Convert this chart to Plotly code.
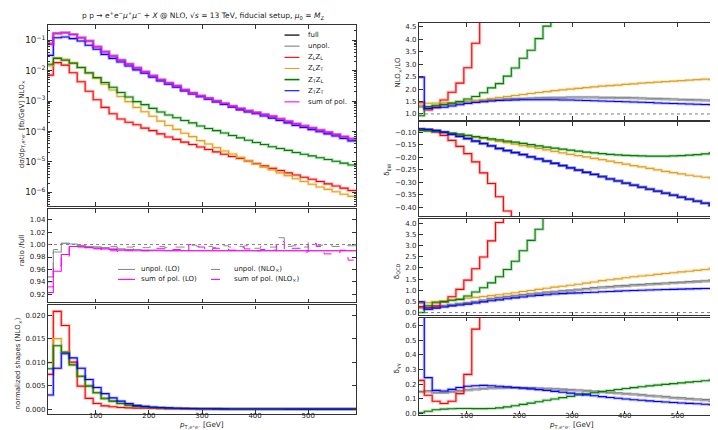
import plotly.graph_objects as go

# ---------------- data ----------------
EDGES = list(range(5, 591, 15))  # bin edges in GeV (39 bins)

TOP_FULL = [0.0780, 0.169, 0.177, 0.154, 0.121, 0.0940, 0.0607, 0.0420, 0.0305, 0.0221,
            0.0164, 0.0124, 0.00921, 0.00683, 0.00506, 0.00393, 0.00319, 0.00236, 0.00184, 0.00150,
            0.00124, 0.00101, 0.000840, 0.000683, 0.000568, 0.000484, 0.000421, 0.000367, 0.000319, 0.000260,
            0.000216, 0.000180, 0.000153, 0.000130, 0.000111, 9.42e-5, 8.02e-5, 6.83e-5, 5.81e-5]
TOP_UNPOL = [0.0745, 0.167, 0.177, 0.154, 0.121, 0.0938, 0.0605, 0.0419, 0.0304, 0.0220,
             0.0163, 0.0123, 0.00917, 0.00680, 0.00504, 0.00391, 0.00318, 0.00235, 0.00183, 0.00149,
             0.00123, 0.00100, 0.000836, 0.000680, 0.000565, 0.000482, 0.000419, 0.000365, 0.000318, 0.000259,
             0.000215, 0.000179, 0.000152, 0.000129, 0.000110, 9.38e-5, 7.98e-5, 6.80e-5, 5.79e-5]
TOP_SUMPOL = [0.0724, 0.162, 0.174, 0.153, 0.120, 0.0933, 0.0603, 0.0417, 0.0302, 0.0219,
              0.0162, 0.0123, 0.00912, 0.00676, 0.00501, 0.00389, 0.00316, 0.00234, 0.00182, 0.00148,
              0.00123, 0.00100, 0.000832, 0.000676, 0.000562, 0.000479, 0.000417, 0.000363, 0.000316, 0.000257,
              0.000214, 0.000178, 0.000151, 0.000129, 0.000110, 9.33e-5, 7.94e-5, 6.76e-5, 5.75e-5]
TOP_TT = [0.0316, 0.120, 0.126, 0.112, 0.0933, 0.0676, 0.0501, 0.0339, 0.0251, 0.0191,
          0.0141, 0.0105, 0.00813, 0.00603, 0.00457, 0.00355, 0.00282, 0.00214, 0.00170, 0.00138,
          0.00115, 0.000933, 0.000776, 0.000631, 0.000513, 0.000437, 0.000380, 0.000324, 0.000275, 0.000229,
          0.000191, 0.000158, 0.000135, 0.000115, 9.77e-5, 8.32e-5, 7.08e-5, 5.89e-5, 4.90e-5]
TOP_TL = [0.0162, 0.0251, 0.0219, 0.0174, 0.0126, 0.00851, 0.00589, 0.00407, 0.00282, 0.00191,
          0.00135, 0.000955, 0.000759, 0.000575, 0.000437, 0.000347, 0.000282, 0.000229, 0.000191, 0.000151,
          0.000126, 0.000107, 8.91e-5, 7.41e-5, 6.17e-5, 5.13e-5, 4.37e-5, 3.72e-5, 3.16e-5, 2.75e-5,
          2.40e-5, 2.04e-5, 1.78e-5, 1.58e-5, 1.38e-5, 1.20e-5, 1.05e-5, 9.12e-6, 7.94e-6]
TOP_LT = [0.0141, 0.0263, 0.0234, 0.0182, 0.0126, 0.00813, 0.00550, 0.00355, 0.00229, 0.00141,
          0.000955, 0.000617, 0.000447, 0.000316, 0.000219, 0.000158, 0.000117, 8.71e-5, 6.76e-5, 5.01e-5,
          3.89e-5, 2.95e-5, 2.29e-5, 1.82e-5, 1.41e-5, 1.10e-5, 8.51e-6, 6.76e-6, 5.50e-6, 4.37e-6,
          3.55e-6, 2.82e-6, 2.29e-6, 1.86e-6, 1.51e-6, 1.26e-6, 1.05e-6, 8.71e-7, 7.41e-7]
TOP_LL = [0.00708, 0.0182, 0.0151, 0.00851, 0.00427, 0.00209, 0.00110, 0.000617, 0.000380, 0.000257,
          0.000200, 0.000166, 0.000129, 0.000107, 8.32e-5, 6.61e-5, 5.50e-5, 4.47e-5, 3.72e-5, 3.09e-5,
          2.57e-5, 2.14e-5, 1.78e-5, 1.51e-5, 1.29e-5, 1.07e-5, 8.91e-6, 7.41e-6, 6.17e-6, 5.25e-6,
          4.37e-6, 3.72e-6, 3.16e-6, 2.69e-6, 2.29e-6, 1.91e-6, 1.62e-6, 1.38e-6, 1.15e-6]

RAT_UNPOL_LO = [0.948, 0.988, 1.002, 1.001, 0.999, 0.997, 0.996, 0.995, 0.994, 0.993,
                0.992, 0.992, 0.991, 0.991, 0.991, 0.990, 0.990, 0.990, 0.990, 0.990,
                0.990, 0.990, 0.990, 0.990, 0.990, 0.990, 0.990, 0.990, 0.990, 0.990,
                0.990, 0.990, 0.990, 0.990, 0.990, 0.990, 0.990, 0.990, 0.990]
RAT_SUMPOL_LO = [0.923, 0.957, 0.984, 0.997, 0.997, 0.995, 0.994, 0.993, 0.992, 0.991,
                 0.990, 0.990, 0.990, 0.990, 0.990, 0.990, 0.990, 0.990, 0.990, 0.990,
                 0.990, 0.990, 0.990, 0.990, 0.990, 0.990, 0.990, 0.990, 0.990, 0.990,
                 0.990, 0.990, 0.990, 0.990, 0.990, 0.990, 0.990, 0.990, 0.990]
RAT_UNPOL_NLO = [0.940, 0.992, 1.002, 1.000, 0.998, 0.997, 0.996, 0.996, 0.997, 0.995,
                 0.996, 0.997, 0.995, 0.996, 0.997, 0.995, 0.996, 0.996, 0.999, 0.997,
                 0.997, 0.995, 0.998, 0.996, 0.997, 0.998, 0.994, 0.997, 0.996, 1.011,
                 0.997, 0.998, 0.996, 1.004, 0.999, 0.998, 0.997, 0.999, 0.998]
RAT_SUMPOL_NLO = [0.932, 0.966, 0.981, 0.995, 0.996, 0.994, 0.993, 0.992, 0.990, 0.989,
                  0.991, 0.993, 0.990, 0.992, 0.994, 0.991, 0.992, 0.990, 1.000, 0.996,
                  0.991, 0.994, 0.993, 0.991, 0.995, 0.993, 0.990, 0.992, 0.991, 1.005,
                  0.992, 0.994, 0.988, 1.002, 0.997, 0.985, 0.987, 0.991, 0.975]

SHP_LL = [0.0074, 0.0208, 0.0178, 0.0100, 0.0049, 0.0023, 0.0012, 0.0007, 0.0005, 0.00035,
          0.00028, 0.00023, 0.00018, 0.00015, 0.00012, 0.00010, 0.00008, 0.00007, 0.00006, 0.00005,
          0.00004, 0.00004, 0.00003, 0.00003, 0.00002, 0.00002, 0.00002, 0.00002, 0.00001, 0.00001,
          0.00001, 0.00001, 0.00001, 0.00001, 0.00001, 0.00001, 0.00001, 0.00001, 0.00001]
SHP_LT = [0.0099, 0.0150, 0.0122, 0.0095, 0.0070, 0.0051, 0.0035, 0.0024, 0.0017, 0.0012,
          0.00085, 0.00060, 0.00045, 0.00033, 0.00024, 0.00018, 0.00013, 0.00010, 0.00008, 0.00006,
          0.00005, 0.00004, 0.00003, 0.00002, 0.00002, 0.00001, 0.00001, 0.00001, 0.00001, 0.00001,
          0.00001, 0.00001, 0.0, 0.0, 0.0, 0.0, 0.0, 0.0, 0.0]
SHP_TL = [0.0086, 0.0135, 0.0121, 0.0094, 0.0070, 0.0049, 0.0035, 0.0022, 0.0017, 0.0012,
          0.00085, 0.00060, 0.00048, 0.00036, 0.00028, 0.00022, 0.00018, 0.00015, 0.00012, 0.00010,
          0.00008, 0.00007, 0.00006, 0.00005, 0.00004, 0.00003, 0.00003, 0.00002, 0.00002, 0.00002,
          0.00002, 0.00001, 0.00001, 0.00001, 0.00001, 0.00001, 0.00001, 0.00001, 0.00001]
SHP_TT = [0.0030, 0.0087, 0.0118, 0.0109, 0.0087, 0.0063, 0.0046, 0.0033, 0.0024, 0.0017,
          0.0012, 0.0008, 0.0006, 0.00045, 0.00035, 0.00027, 0.00021, 0.00016, 0.00013, 0.00010,
          0.00008, 0.00007, 0.00006, 0.00005, 0.00004, 0.00003, 0.00003, 0.00002, 0.00002, 0.00002,
          0.00001, 0.00001, 0.00001, 0.00001, 0.00001, 0.00001, 0.00001, 0.00001, 0.00001]

K_FULL = [1.30, 1.25, 1.30, 1.36, 1.40, 1.44, 1.48, 1.51, 1.53, 1.56,
          1.58, 1.60, 1.61, 1.62, 1.63, 1.64, 1.65, 1.66, 1.66, 1.67,
          1.67, 1.67, 1.67, 1.66, 1.66, 1.65, 1.65, 1.64, 1.63, 1.62,
          1.61, 1.60, 1.59, 1.58, 1.57, 1.56, 1.55, 1.54, 1.53]
K_UNPOL = [1.28, 1.24, 1.29, 1.35, 1.39, 1.43, 1.47, 1.50, 1.52, 1.55,
           1.57, 1.59, 1.60, 1.61, 1.62, 1.63, 1.64, 1.65, 1.65, 1.66,
           1.66, 1.66, 1.66, 1.65, 1.65, 1.64, 1.64, 1.63, 1.62, 1.61,
           1.60, 1.59, 1.58, 1.57, 1.56, 1.55, 1.54, 1.53, 1.52]
K_LL = [1.47, 1.16, 1.27, 1.56, 1.87, 2.24, 2.86, 3.84, 5.3, 6.6,
        7.9, 9.1, 10.2, 11.3, 12.3, 13.2, 14.1, 15.0, 15.8, 16.5,
        17.2, 17.9, 18.5, 19.1, 19.7, 20.2, 20.7, 21.2, 21.6, 22.0,
        22.4, 22.8, 23.1, 23.4, 23.7, 24.0, 24.3, 24.5, 24.7]
K_LT = [1.40, 1.43, 1.44, 1.45, 1.46, 1.49, 1.52, 1.55, 1.58, 1.62,
        1.66, 1.70, 1.74, 1.78, 1.82, 1.86, 1.90, 1.94, 1.97, 2.00,
        2.03, 2.06, 2.09, 2.12, 2.14, 2.16, 2.19, 2.21, 2.24, 2.26,
        2.28, 2.30, 2.32, 2.34, 2.36, 2.38, 2.40, 2.38, 2.48]
K_TL = [0.93, 1.30, 1.35, 1.38, 1.43, 1.50, 1.60, 1.70, 1.85, 2.05,
        2.22, 2.52, 2.85, 3.24, 3.56, 4.03, 4.53, 5.1, 5.7, 6.3,
        6.9, 7.5, 8.1, 8.6, 9.1, 9.6, 10.0, 10.4, 10.8, 11.2,
        11.5, 11.8, 12.1, 12.4, 12.6, 12.8, 13.0, 13.2, 13.4]
K_TT = [2.48, 1.22, 1.25, 1.27, 1.32, 1.37, 1.42, 1.46, 1.49, 1.52,
        1.54, 1.55, 1.56, 1.57, 1.57, 1.57, 1.57, 1.57, 1.56, 1.56,
        1.55, 1.54, 1.53, 1.52, 1.51, 1.50, 1.49, 1.48, 1.47, 1.46,
        1.44, 1.43, 1.42, 1.41, 1.40, 1.39, 1.38, 1.37, 1.34]

EW_FULL = [-0.088, -0.090, -0.094, -0.100, -0.108, -0.116, -0.125, -0.135, -0.145, -0.154,
           -0.164, -0.173, -0.181, -0.189, -0.198, -0.206, -0.215, -0.224, -0.233, -0.242,
           -0.251, -0.260, -0.268, -0.277, -0.286, -0.294, -0.303, -0.311, -0.319, -0.327,
           -0.335, -0.343, -0.351, -0.359, -0.367, -0.375, -0.383, -0.392, -0.403]
EW_UNPOL = [-0.087, -0.089, -0.094, -0.100, -0.108, -0.117, -0.126, -0.136, -0.145, -0.155,
            -0.165, -0.174, -0.182, -0.190, -0.199, -0.207, -0.216, -0.225, -0.234, -0.243,
            -0.252, -0.261, -0.269, -0.278, -0.287, -0.295, -0.304, -0.312, -0.320, -0.328,
            -0.336, -0.344, -0.352, -0.360, -0.368, -0.376, -0.384, -0.393, -0.404]
EW_LL = [-0.090, -0.092, -0.100, -0.113, -0.133, -0.157, -0.186, -0.219, -0.263, -0.305,
         -0.358, -0.415, -0.47, -0.53, -0.59, -0.65, -0.71, -0.77, -0.83, -0.89,
         -0.95, -1.01, -1.07, -1.13, -1.19, -1.25, -1.31, -1.37, -1.43, -1.49,
         -1.55, -1.61, -1.67, -1.73, -1.79, -1.85, -1.91, -1.97, -2.03]
EW_LT = [-0.092, -0.094, -0.097, -0.100, -0.104, -0.109, -0.114, -0.120, -0.125, -0.131,
         -0.137, -0.142, -0.148, -0.154, -0.159, -0.165, -0.171, -0.177, -0.183, -0.189,
         -0.194, -0.199, -0.205, -0.210, -0.216, -0.222, -0.228, -0.234, -0.239, -0.245,
         -0.251, -0.257, -0.262, -0.267, -0.272, -0.276, -0.280, -0.284, -0.287]
EW_TL = [-0.093, -0.095, -0.097, -0.100, -0.104, -0.108, -0.113, -0.118, -0.122, -0.127,
         -0.131, -0.136, -0.140, -0.145, -0.150, -0.155, -0.160, -0.164, -0.168, -0.172,
         -0.176, -0.180, -0.183, -0.186, -0.189, -0.191, -0.193, -0.194, -0.195, -0.196,
         -0.196, -0.196, -0.195, -0.194, -0.192, -0.190, -0.187, -0.183, -0.177]
EW_TT = [-0.087, -0.089, -0.093, -0.100, -0.109, -0.117, -0.126, -0.136, -0.146, -0.155,
         -0.166, -0.174, -0.182, -0.190, -0.199, -0.207, -0.216, -0.225, -0.234, -0.243,
         -0.252, -0.261, -0.269, -0.278, -0.287, -0.295, -0.304, -0.312, -0.320, -0.328,
         -0.336, -0.344, -0.352, -0.360, -0.368, -0.376, -0.384, -0.393, -0.405]

QCD_FULL = [0.22, 0.18, 0.25, 0.30, 0.35, 0.39, 0.43, 0.48, 0.55, 0.62,
            0.67, 0.71, 0.75, 0.79, 0.83, 0.86, 0.90, 0.93, 0.96, 0.99,
            1.03, 1.06, 1.10, 1.13, 1.15, 1.18, 1.20, 1.23, 1.25, 1.27,
            1.29, 1.31, 1.33, 1.35, 1.37, 1.39, 1.41, 1.44, 1.48]
QCD_UNPOL = [0.20, 0.17, 0.24, 0.29, 0.34, 0.38, 0.42, 0.47, 0.53, 0.60,
             0.65, 0.69, 0.73, 0.77, 0.81, 0.84, 0.88, 0.91, 0.94, 0.97,
             1.01, 1.04, 1.08, 1.11, 1.13, 1.16, 1.18, 1.21, 1.23, 1.25,
             1.27, 1.29, 1.31, 1.33, 1.35, 1.37, 1.39, 1.42, 1.46]
QCD_LL = [0.27, 0.22, 0.30, 0.47, 0.71, 1.04, 1.45, 1.96, 2.49, 3.21,
          4.03, 4.9, 5.8, 6.7, 7.6, 8.5, 9.3, 10.1, 10.9, 11.6,
          12.3, 13.0, 13.6, 14.2, 14.8, 15.3, 15.8, 16.3, 16.7, 17.1,
          17.5, 17.9, 18.2, 18.5, 18.8, 19.1, 19.4, 19.6, 19.8]
QCD_LT = [0.41, 0.44, 0.49, 0.52, 0.56, 0.60, 0.64, 0.68, 0.72, 0.76,
          0.80, 0.84, 0.89, 0.94, 0.99, 1.04, 1.09, 1.14, 1.18, 1.22,
          1.27, 1.32, 1.37, 1.43, 1.47, 1.51, 1.56, 1.60, 1.64, 1.67,
          1.71, 1.75, 1.78, 1.82, 1.85, 1.89, 1.93, 1.98, 2.07]
QCD_TL = [0.0, 0.30, 0.44, 0.49, 0.55, 0.59, 0.74, 0.92, 1.11, 1.33,
          1.60, 1.93, 2.30, 2.77, 3.23, 3.73, 4.3, 4.9, 5.5, 6.1,
          6.7, 7.2, 7.7, 8.2, 8.7, 9.1, 9.5, 9.9, 10.3, 10.6,
          10.9, 11.2, 11.5, 11.8, 12.0, 12.2, 12.4, 12.6, 12.8]
QCD_TT = [0.48, 0.15, 0.20, 0.25, 0.30, 0.34, 0.38, 0.43, 0.48, 0.53,
          0.57, 0.62, 0.66, 0.70, 0.74, 0.77, 0.80, 0.83, 0.85, 0.87,
          0.88, 0.90, 0.91, 0.93, 0.94, 0.96, 0.98, 0.99, 1.00, 1.01,
          1.02, 1.03, 1.04, 1.05, 1.06, 1.07, 1.08, 1.08, 1.08]

GG_FULL = [0.150, 0.152, 0.143, 0.143, 0.148, 0.155, 0.160, 0.165, 0.170, 0.173,
           0.175, 0.176, 0.176, 0.175, 0.174, 0.172, 0.170, 0.167, 0.164, 0.161,
           0.158, 0.155, 0.151, 0.147, 0.143, 0.139, 0.135, 0.131, 0.127, 0.122,
           0.117, 0.113, 0.108, 0.104, 0.100, 0.096, 0.092, 0.088, 0.083]
GG_UNPOL = [0.145, 0.150, 0.141, 0.141, 0.146, 0.153, 0.158, 0.163, 0.168, 0.171,
            0.173, 0.174, 0.174, 0.173, 0.172, 0.170, 0.168, 0.165, 0.162, 0.159,
            0.156, 0.153, 0.149, 0.145, 0.141, 0.137, 0.133, 0.129, 0.125, 0.120,
            0.115, 0.111, 0.106, 0.102, 0.098, 0.094, 0.090, 0.086, 0.081]
GG_LL = [0.226, 0.125, 0.084, 0.068, 0.084, 0.136, 0.267, 0.577, 0.85, 1.1,
         1.3, 1.5, 1.7, 1.9, 2.1, 2.3, 2.5, 2.7, 2.9, 3.1,
         3.3, 3.5, 3.7, 3.9, 4.1, 4.3, 4.5, 4.7, 4.9, 5.1,
         5.3, 5.5, 5.7, 5.9, 6.1, 6.3, 6.5, 6.7, 6.9]
GG_TL = [0.005, 0.015, 0.025, 0.030, 0.032, 0.034, 0.034, 0.033, 0.033, 0.034,
         0.038, 0.045, 0.053, 0.062, 0.071, 0.080, 0.090, 0.099, 0.108, 0.117,
         0.126, 0.134, 0.142, 0.150, 0.157, 0.164, 0.171, 0.177, 0.183, 0.189,
         0.194, 0.199, 0.204, 0.209, 0.214, 0.219, 0.224, 0.229, 0.234]
GG_TT = [0.9, 0.245, 0.158, 0.154, 0.165, 0.178, 0.186, 0.190, 0.192, 0.190,
         0.186, 0.182, 0.178, 0.173, 0.168, 0.163, 0.157, 0.151, 0.145, 0.139,
         0.133, 0.127, 0.121, 0.115, 0.109, 0.104, 0.099, 0.094, 0.090, 0.086,
         0.082, 0.078, 0.075, 0.072, 0.069, 0.066, 0.063, 0.060, 0.057]

# ---------------- style ----------------
W, H = 718, 430
FONT = "DejaVu Sans"
TXT = "#222222"
C_FULL, C_UNPOL = "#3c3c3c", "#a6a6a6"
C_LL, C_LT, C_TL, C_TT, C_SUM = "#ff0000", "#e3a21a", "#008000", "#0000ff", "#ff00ff"


def px(x):
    return x / W


def py(y):
    return 1 - y / H


fig = go.Figure()


def step(vals, ax, color, width=1.1, dash="solid", band=True):
    yy = list(vals) + [vals[-1]]
    xa, ya = "x" + ("" if ax == 1 else str(ax)), "y" + ("" if ax == 1 else str(ax))
    if band:
        fig.add_trace(go.Scatter(x=EDGES, y=yy, mode="lines", xaxis=xa, yaxis=ya,
                                 line=dict(shape="hv", color=color, width=3.0), opacity=0.25,
                                 showlegend=False, hoverinfo="skip"))
    fig.add_trace(go.Scatter(x=EDGES, y=yy, mode="lines", xaxis=xa, yaxis=ya,
                             line=dict(shape="hv", color=color, width=width, dash=dash),
                             showlegend=False, hoverinfo="skip"))


# panel 1: differential distribution
step(TOP_FULL, 1, C_FULL, 1.3)
step(TOP_UNPOL, 1, C_UNPOL, 1.3)
step(TOP_LL, 1, C_LL)
step(TOP_LT, 1, C_LT)
step(TOP_TL, 1, C_TL)
step(TOP_TT, 1, C_TT)
step(TOP_SUMPOL, 1, C_SUM)

# panel 2: ratios
step(RAT_UNPOL_LO, 2, "#8c8c8c", 1.1, band=False)
step(RAT_SUMPOL_LO, 2, C_SUM, 1.1, band=False)
step(RAT_UNPOL_NLO, 2, "#8c8c8c", 1.0, dash="dash", band=False)
step(RAT_SUMPOL_NLO, 2, C_SUM, 1.0, dash="dash", band=False)

# panel 3: shapes
step(SHP_LL, 3, C_LL)
step(SHP_LT, 3, C_LT)
step(SHP_TL, 3, C_TL)
step(SHP_TT, 3, C_TT)

# right panels
for ax, series in [(4, [K_FULL, K_UNPOL, K_LL, K_LT, K_TL, K_TT]),
                   (5, [EW_FULL, EW_UNPOL, EW_LL, EW_LT, EW_TL, EW_TT]),
                   (6, [QCD_FULL, QCD_UNPOL, QCD_LL, QCD_LT, QCD_TL, QCD_TT])]:
    cols = [C_FULL, C_UNPOL, C_LL, C_LT, C_TL, C_TT]
    for s, c in zip(series, cols):
        step(s, ax, c, 1.3 if c in (C_FULL, C_UNPOL) else 1.1)
for s, c in zip([GG_FULL, GG_UNPOL, GG_LL, GG_TL, GG_TT], [C_FULL, C_UNPOL, C_LL, C_TL, C_TT]):
    step(s, 7, c, 1.3 if c in (C_FULL, C_UNPOL) else 1.1)

# ---------------- axes ----------------
PANELS = {
    1: dict(x=(40, 348), y=(17, 199.5), range=[-6.45, -0.50], log=True),
    2: dict(x=(40, 348), y=(202.5, 296.5), range=[0.907, 1.057], dtick=0.02, tick0=0.92, fmt=".2f"),
    3: dict(x=(40, 348), y=(299.5, 409), range=[-0.00106, 0.02207], dtick=0.005, tick0=0, fmt=".3f"),
    4: dict(x=(411, 717), y=(15, 112.5), range=[0.769, 4.66], dtick=0.5, tick0=1.0, fmt=".1f"),
    5: dict(x=(411, 717), y=(115, 209.5), range=[-0.4353, -0.0603], dtick=0.05, tick0=-0.4, fmt=".2f"),
    6: dict(x=(411, 717), y=(212.5, 309.5), range=[-0.124, 4.187], dtick=0.5, tick0=0, fmt=".1f"),
    7: dict(x=(411, 717), y=(312, 409.5), range=[-0.008, 0.654], dtick=0.1, tick0=0, fmt=".1f"),
}
common = dict(showline=True, mirror="ticks", linecolor="#333333", linewidth=1.3,
              ticks="inside", ticklen=3.5, tickwidth=0.8, tickcolor="#333333",
              showgrid=False, zeroline=False,
              tickfont=dict(family=FONT, size=7, color=TXT))
layout = {}
for i, p in PANELS.items():
    sx = "" if i == 1 else str(i)
    xa = dict(common, domain=[px(p["x"][0]), px(p["x"][1])], anchor="y" + sx,
              range=[10, 590], tick0=0, dtick=100,
              showticklabels=i in (3, 7), ticklabelstandoff=-6)
    ya = dict(common, domain=[py(p["y"][1]), py(p["y"][0])], anchor="x" + sx,
              range=p["range"])
    if p.get("log"):
        ya.update(type="log", dtick=1, exponentformat="power", showexponent="all",
                  minor=dict(ticks="inside", ticklen=2, tickcolor="#333333", showgrid=False))
    else:
        ya.update(dtick=p["dtick"], tick0=p["tick0"], tickformat=p["fmt"])
    layout["xaxis" + sx] = xa
    layout["yaxis" + sx] = ya

fig.update_layout(**layout)

# reference lines
for ax, val in [(2, 1.0), (4, 1.0), (6, 0.0)]:
    sx = "" if ax == 1 else str(ax)
    fig.add_shape(type="line", xref="x" + sx + " domain", x0=0, x1=1, yref="y" + sx, y0=val, y1=val,
                  line=dict(color="#808080", width=1, dash="dot"))

ann = []


def text(x, y, s, size=7, angle=0, xanchor="center", yanchor="middle"):
    ann.append(dict(x=px(x), y=py(y), xref="paper", yref="paper", text=s, showarrow=False,
                    textangle=angle, xanchor=xanchor, yanchor=yanchor,
                    font=dict(family=FONT, size=size, color=TXT)))


# title
text(195, 8, "p p → e<sup>+</sup>e<sup>−</sup><i>μ</i><sup>+</sup><i>μ</i><sup>−</sup> + <i>X</i> @ NLO, "
             "√<i>s</i> = 13 TeV, fiducial setup, <i>μ</i><sub>0</sub> = <i>M</i><sub>Z</sub>", size=7.5)

# y-axis titles
text(14, 117, "dσ/dp<sub>T,e⁺e⁻</sub> [fb/GeV] NLO<sub>×</sub>", angle=-90)
text(14, 244, "ratio /full", angle=-90)
text(10, 358, "normalized shapes (NLO<sub>×</sub>)", angle=-90)
text(390, 65, "NLO<sub>×</sub>/LO", angle=-90)
text(379, 163, "δ<sub>EW</sub>", angle=-90)
text(389, 265, "δ<sub>QCD</sub>", angle=-90)
text(389, 363, "δ<sub>γγ</sub>", angle=-90)

# x-axis titles
text(194, 420, "<i>p</i><sub>T,e⁺e⁻</sub> [GeV]", size=7.2)
text(563, 420, "<i>p</i><sub>T,e⁺e⁻</sub> [GeV]", size=7.2)

# main legend (top-left panel)
LEG = [("full", C_FULL, 1.6, "solid"), ("unpol.", C_UNPOL, 1.6, "solid"),
       ("Z<sub>L</sub>Z<sub>L</sub>", C_LL, 1.1, "solid"), ("Z<sub>L</sub>Z<sub>T</sub>", C_LT, 1.1, "solid"),
       ("Z<sub>T</sub>Z<sub>L</sub>", C_TL, 1.6, "solid"), ("Z<sub>T</sub>Z<sub>T</sub>", C_TT, 1.1, "solid"),
       ("sum of pol.", C_SUM, 1.1, "solid")]
for i, (lab, c, w, d) in enumerate(LEG):
    yy = 27.3 + 11.2 * i
    fig.add_shape(type="line", xref="paper", yref="paper", x0=px(276.5), x1=px(291.5),
                  y0=py(yy), y1=py(yy), line=dict(color=c, width=w, dash=d))
    text(298, yy, lab, xanchor="left")

# ratio legend
RLEG = [("unpol. (LO)", "#8c8c8c", "solid", 110, 263.3), ("sum of pol. (LO)", C_SUM, "solid", 110, 273.3),
        ("unpol. (NLO<sub>×</sub>)", "#8c8c8c", "dash", 203, 263.3),
        ("sum of pol. (NLO<sub>×</sub>)", C_SUM, "dash", 203, 273.3)]
for lab, c, d, x0, yy in RLEG:
    fig.add_shape(type="line", xref="paper", yref="paper", x0=px(x0), x1=px(x0 + 17),
                  y0=py(yy), y1=py(yy), line=dict(color=c, width=1.1, dash=d))
    text(x0 + 21, yy, lab, xanchor="left")

fig.update_layout(annotations=ann, width=W, height=H, margin=dict(l=0, r=0, t=0, b=0),
                  paper_bgcolor="white", plot_bgcolor="white", showlegend=False,
                  font=dict(family=FONT, size=7, color=TXT))

fig.write_html("out.html")
